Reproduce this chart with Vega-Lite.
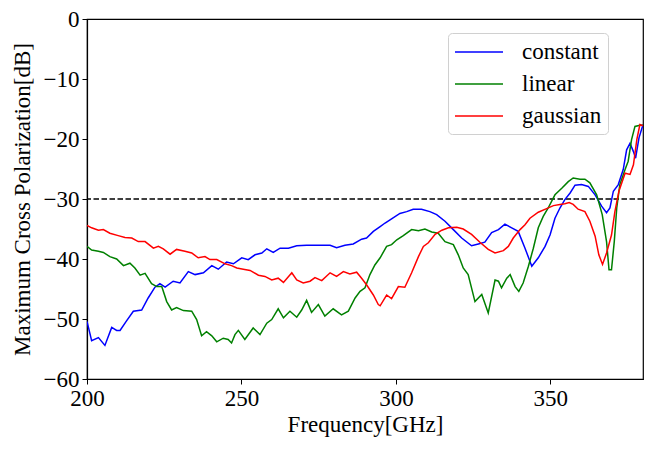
{
  "$schema": "https://vega.github.io/schema/vega-lite/v6.json",
  "width": 556,
  "height": 360,
  "autosize": {"type": "none"},
  "padding": {"left": 87, "top": 19, "right": 11, "bottom": 74},
  "background": "white",
  "config": {
    "font": "Liberation Serif",
    "view": {"stroke": "black", "strokeWidth": 1.2},
    "axis": {
      "grid": false,
      "domainColor": "black",
      "tickColor": "black",
      "labelColor": "black",
      "titleColor": "black",
      "labelFont": "Liberation Serif",
      "titleFont": "Liberation Serif",
      "labelFontSize": 23,
      "titleFontSize": 23,
      "titleFontWeight": "normal",
      "tickSize": 5,
      "tickWidth": 1,
      "domainWidth": 1.2
    }
  },
  "datasets": {
    "curves": [
      {"f": 200, "v": -50.4, "s": "constant"},
      {"f": 201.5, "v": -53.6, "s": "constant"},
      {"f": 203.7, "v": -53.1, "s": "constant"},
      {"f": 205.8, "v": -54.4, "s": "constant"},
      {"f": 208.0, "v": -51.4, "s": "constant"},
      {"f": 209.6, "v": -51.9, "s": "constant"},
      {"f": 210.7, "v": -51.9, "s": "constant"},
      {"f": 212.8, "v": -50.3, "s": "constant"},
      {"f": 215.0, "v": -48.7, "s": "constant"},
      {"f": 217.7, "v": -48.5, "s": "constant"},
      {"f": 219.8, "v": -46.5, "s": "constant"},
      {"f": 222.0, "v": -44.7, "s": "constant"},
      {"f": 223.6, "v": -44.1, "s": "constant"},
      {"f": 225.3, "v": -44.7, "s": "constant"},
      {"f": 227.9, "v": -43.7, "s": "constant"},
      {"f": 230.1, "v": -44.0, "s": "constant"},
      {"f": 232.8, "v": -42.1, "s": "constant"},
      {"f": 235.0, "v": -42.6, "s": "constant"},
      {"f": 237.7, "v": -42.3, "s": "constant"},
      {"f": 240.4, "v": -41.1, "s": "constant"},
      {"f": 242.5, "v": -41.7, "s": "constant"},
      {"f": 245.2, "v": -40.5, "s": "constant"},
      {"f": 247.4, "v": -40.8, "s": "constant"},
      {"f": 250.1, "v": -39.8, "s": "constant"},
      {"f": 252.2, "v": -40.1, "s": "constant"},
      {"f": 254.4, "v": -39.3, "s": "constant"},
      {"f": 256.6, "v": -39.0, "s": "constant"},
      {"f": 258.2, "v": -38.3, "s": "constant"},
      {"f": 260.3, "v": -38.9, "s": "constant"},
      {"f": 262.5, "v": -38.2, "s": "constant"},
      {"f": 265.2, "v": -38.2, "s": "constant"},
      {"f": 267.9, "v": -37.8, "s": "constant"},
      {"f": 271.1, "v": -37.7, "s": "constant"},
      {"f": 274.4, "v": -37.7, "s": "constant"},
      {"f": 278.7, "v": -37.7, "s": "constant"},
      {"f": 280.8, "v": -38.1, "s": "constant"},
      {"f": 283.5, "v": -37.7, "s": "constant"},
      {"f": 286.2, "v": -37.5, "s": "constant"},
      {"f": 288.9, "v": -36.7, "s": "constant"},
      {"f": 290.5, "v": -36.5, "s": "constant"},
      {"f": 292.7, "v": -35.4, "s": "constant"},
      {"f": 294.9, "v": -34.6, "s": "constant"},
      {"f": 296.5, "v": -34.0, "s": "constant"},
      {"f": 298.6, "v": -33.3, "s": "constant"},
      {"f": 301.3, "v": -32.4, "s": "constant"},
      {"f": 303.5, "v": -32.1, "s": "constant"},
      {"f": 305.6, "v": -31.7, "s": "constant"},
      {"f": 308.3, "v": -31.7, "s": "constant"},
      {"f": 311.0, "v": -32.1, "s": "constant"},
      {"f": 313.2, "v": -32.6, "s": "constant"},
      {"f": 315.9, "v": -33.7, "s": "constant"},
      {"f": 318.6, "v": -35.1, "s": "constant"},
      {"f": 321.3, "v": -36.5, "s": "constant"},
      {"f": 324.5, "v": -37.8, "s": "constant"},
      {"f": 326.7, "v": -37.5, "s": "constant"},
      {"f": 328.8, "v": -37.2, "s": "constant"},
      {"f": 331.0, "v": -35.6, "s": "constant"},
      {"f": 333.2, "v": -35.1, "s": "constant"},
      {"f": 335.3, "v": -34.2, "s": "constant"},
      {"f": 337.5, "v": -34.8, "s": "constant"},
      {"f": 339.6, "v": -35.4, "s": "constant"},
      {"f": 341.8, "v": -38.2, "s": "constant"},
      {"f": 344.0, "v": -41.2, "s": "constant"},
      {"f": 346.1, "v": -39.8, "s": "constant"},
      {"f": 348.3, "v": -37.9, "s": "constant"},
      {"f": 349.9, "v": -36.0, "s": "constant"},
      {"f": 351.5, "v": -33.2, "s": "constant"},
      {"f": 353.1, "v": -31.5, "s": "constant"},
      {"f": 354.7, "v": -30.1, "s": "constant"},
      {"f": 356.4, "v": -29.0, "s": "constant"},
      {"f": 358.0, "v": -27.7, "s": "constant"},
      {"f": 360.1, "v": -27.6, "s": "constant"},
      {"f": 362.3, "v": -27.9, "s": "constant"},
      {"f": 364.5, "v": -29.3, "s": "constant"},
      {"f": 366.6, "v": -31.2, "s": "constant"},
      {"f": 368.2, "v": -32.3, "s": "constant"},
      {"f": 369.3, "v": -31.5, "s": "constant"},
      {"f": 370.4, "v": -28.7, "s": "constant"},
      {"f": 372.0, "v": -27.6, "s": "constant"},
      {"f": 373.6, "v": -25.1, "s": "constant"},
      {"f": 374.7, "v": -21.8, "s": "constant"},
      {"f": 375.8, "v": -20.7, "s": "constant"},
      {"f": 376.9, "v": -22.1, "s": "constant"},
      {"f": 377.6, "v": -23.2, "s": "constant"},
      {"f": 378.7, "v": -19.8, "s": "constant"},
      {"f": 380, "v": -17.6, "s": "constant"},

      {"f": 200, "v": -37.9, "s": "linear"},
      {"f": 201.5, "v": -38.5, "s": "linear"},
      {"f": 203.7, "v": -38.7, "s": "linear"},
      {"f": 205.3, "v": -38.9, "s": "linear"},
      {"f": 207.4, "v": -39.6, "s": "linear"},
      {"f": 209.6, "v": -40.0, "s": "linear"},
      {"f": 211.8, "v": -41.1, "s": "linear"},
      {"f": 213.9, "v": -40.7, "s": "linear"},
      {"f": 215.5, "v": -41.5, "s": "linear"},
      {"f": 217.2, "v": -42.7, "s": "linear"},
      {"f": 218.8, "v": -42.4, "s": "linear"},
      {"f": 220.9, "v": -44.1, "s": "linear"},
      {"f": 222.6, "v": -44.6, "s": "linear"},
      {"f": 224.2, "v": -44.6, "s": "linear"},
      {"f": 225.8, "v": -47.1, "s": "linear"},
      {"f": 227.4, "v": -48.5, "s": "linear"},
      {"f": 229.0, "v": -48.1, "s": "linear"},
      {"f": 231.2, "v": -48.6, "s": "linear"},
      {"f": 233.9, "v": -48.7, "s": "linear"},
      {"f": 235.5, "v": -50.1, "s": "linear"},
      {"f": 237.1, "v": -52.8, "s": "linear"},
      {"f": 238.7, "v": -52.1, "s": "linear"},
      {"f": 240.4, "v": -52.8, "s": "linear"},
      {"f": 242.0, "v": -53.8, "s": "linear"},
      {"f": 244.1, "v": -53.2, "s": "linear"},
      {"f": 245.7, "v": -53.4, "s": "linear"},
      {"f": 246.8, "v": -54.0, "s": "linear"},
      {"f": 247.9, "v": -52.6, "s": "linear"},
      {"f": 249.0, "v": -51.9, "s": "linear"},
      {"f": 251.1, "v": -53.4, "s": "linear"},
      {"f": 253.8, "v": -51.5, "s": "linear"},
      {"f": 256.0, "v": -52.6, "s": "linear"},
      {"f": 258.2, "v": -50.7, "s": "linear"},
      {"f": 259.8, "v": -50.1, "s": "linear"},
      {"f": 261.9, "v": -48.3, "s": "linear"},
      {"f": 263.6, "v": -49.8, "s": "linear"},
      {"f": 265.7, "v": -48.7, "s": "linear"},
      {"f": 267.9, "v": -49.7, "s": "linear"},
      {"f": 269.5, "v": -48.5, "s": "linear"},
      {"f": 271.1, "v": -46.9, "s": "linear"},
      {"f": 272.7, "v": -48.9, "s": "linear"},
      {"f": 274.9, "v": -47.6, "s": "linear"},
      {"f": 277.0, "v": -49.5, "s": "linear"},
      {"f": 279.7, "v": -48.3, "s": "linear"},
      {"f": 282.4, "v": -49.3, "s": "linear"},
      {"f": 284.6, "v": -48.7, "s": "linear"},
      {"f": 286.8, "v": -46.5, "s": "linear"},
      {"f": 288.4, "v": -45.4, "s": "linear"},
      {"f": 290.0, "v": -44.8, "s": "linear"},
      {"f": 291.6, "v": -42.6, "s": "linear"},
      {"f": 293.2, "v": -41.0, "s": "linear"},
      {"f": 294.9, "v": -39.8, "s": "linear"},
      {"f": 297.0, "v": -37.9, "s": "linear"},
      {"f": 298.6, "v": -37.6, "s": "linear"},
      {"f": 300.3, "v": -36.8, "s": "linear"},
      {"f": 302.4, "v": -36.1, "s": "linear"},
      {"f": 305.1, "v": -35.1, "s": "linear"},
      {"f": 307.3, "v": -35.3, "s": "linear"},
      {"f": 309.4, "v": -35.0, "s": "linear"},
      {"f": 311.6, "v": -35.5, "s": "linear"},
      {"f": 313.7, "v": -35.7, "s": "linear"},
      {"f": 315.9, "v": -37.1, "s": "linear"},
      {"f": 318.6, "v": -37.6, "s": "linear"},
      {"f": 320.2, "v": -39.3, "s": "linear"},
      {"f": 321.8, "v": -41.5, "s": "linear"},
      {"f": 323.4, "v": -42.6, "s": "linear"},
      {"f": 325.6, "v": -47.1, "s": "linear"},
      {"f": 327.8, "v": -45.9, "s": "linear"},
      {"f": 329.9, "v": -49.0, "s": "linear"},
      {"f": 332.1, "v": -43.5, "s": "linear"},
      {"f": 333.2, "v": -43.7, "s": "linear"},
      {"f": 334.2, "v": -44.8, "s": "linear"},
      {"f": 335.9, "v": -43.2, "s": "linear"},
      {"f": 337.0, "v": -42.6, "s": "linear"},
      {"f": 338.6, "v": -44.6, "s": "linear"},
      {"f": 339.8, "v": -45.4, "s": "linear"},
      {"f": 341.2, "v": -44.0, "s": "linear"},
      {"f": 342.9, "v": -41.2, "s": "linear"},
      {"f": 344.5, "v": -38.2, "s": "linear"},
      {"f": 346.1, "v": -34.8, "s": "linear"},
      {"f": 347.7, "v": -32.9, "s": "linear"},
      {"f": 349.3, "v": -31.5, "s": "linear"},
      {"f": 351.5, "v": -29.3, "s": "linear"},
      {"f": 353.7, "v": -28.2, "s": "linear"},
      {"f": 355.8, "v": -27.1, "s": "linear"},
      {"f": 357.4, "v": -26.5, "s": "linear"},
      {"f": 359.6, "v": -26.7, "s": "linear"},
      {"f": 361.2, "v": -26.7, "s": "linear"},
      {"f": 362.8, "v": -27.3, "s": "linear"},
      {"f": 365.0, "v": -29.3, "s": "linear"},
      {"f": 366.8, "v": -32.6, "s": "linear"},
      {"f": 368.2, "v": -37.1, "s": "linear"},
      {"f": 369.0, "v": -41.8, "s": "linear"},
      {"f": 369.8, "v": -41.8, "s": "linear"},
      {"f": 370.7, "v": -37.1, "s": "linear"},
      {"f": 371.5, "v": -31.5, "s": "linear"},
      {"f": 372.5, "v": -27.6, "s": "linear"},
      {"f": 374.2, "v": -25.1, "s": "linear"},
      {"f": 375.2, "v": -23.7, "s": "linear"},
      {"f": 376.3, "v": -20.1, "s": "linear"},
      {"f": 377.4, "v": -17.9, "s": "linear"},
      {"f": 379.0, "v": -17.7, "s": "linear"},
      {"f": 380, "v": -17.7, "s": "linear"},

      {"f": 200, "v": -34.4, "s": "gaussian"},
      {"f": 201.5, "v": -34.8, "s": "gaussian"},
      {"f": 203.7, "v": -35.2, "s": "gaussian"},
      {"f": 205.3, "v": -35.1, "s": "gaussian"},
      {"f": 207.4, "v": -35.7, "s": "gaussian"},
      {"f": 210.1, "v": -36.1, "s": "gaussian"},
      {"f": 212.3, "v": -36.4, "s": "gaussian"},
      {"f": 214.5, "v": -36.5, "s": "gaussian"},
      {"f": 216.6, "v": -37.1, "s": "gaussian"},
      {"f": 218.8, "v": -37.1, "s": "gaussian"},
      {"f": 221.5, "v": -38.2, "s": "gaussian"},
      {"f": 223.1, "v": -37.9, "s": "gaussian"},
      {"f": 224.7, "v": -38.3, "s": "gaussian"},
      {"f": 226.9, "v": -39.2, "s": "gaussian"},
      {"f": 229.0, "v": -38.4, "s": "gaussian"},
      {"f": 231.7, "v": -38.7, "s": "gaussian"},
      {"f": 233.9, "v": -39.0, "s": "gaussian"},
      {"f": 236.0, "v": -39.8, "s": "gaussian"},
      {"f": 238.2, "v": -39.6, "s": "gaussian"},
      {"f": 239.8, "v": -40.1, "s": "gaussian"},
      {"f": 242.0, "v": -40.1, "s": "gaussian"},
      {"f": 244.7, "v": -40.8, "s": "gaussian"},
      {"f": 246.8, "v": -41.1, "s": "gaussian"},
      {"f": 248.5, "v": -41.5, "s": "gaussian"},
      {"f": 250.6, "v": -41.7, "s": "gaussian"},
      {"f": 252.8, "v": -41.9, "s": "gaussian"},
      {"f": 255.5, "v": -42.7, "s": "gaussian"},
      {"f": 257.6, "v": -42.9, "s": "gaussian"},
      {"f": 259.8, "v": -43.5, "s": "gaussian"},
      {"f": 261.9, "v": -43.2, "s": "gaussian"},
      {"f": 263.6, "v": -43.9, "s": "gaussian"},
      {"f": 266.3, "v": -42.3, "s": "gaussian"},
      {"f": 267.9, "v": -43.5, "s": "gaussian"},
      {"f": 270.0, "v": -44.0, "s": "gaussian"},
      {"f": 272.2, "v": -43.7, "s": "gaussian"},
      {"f": 273.8, "v": -43.1, "s": "gaussian"},
      {"f": 276.0, "v": -43.6, "s": "gaussian"},
      {"f": 278.7, "v": -42.3, "s": "gaussian"},
      {"f": 280.8, "v": -42.9, "s": "gaussian"},
      {"f": 283.0, "v": -42.1, "s": "gaussian"},
      {"f": 285.1, "v": -42.5, "s": "gaussian"},
      {"f": 287.3, "v": -42.2, "s": "gaussian"},
      {"f": 288.9, "v": -43.2, "s": "gaussian"},
      {"f": 290.5, "v": -44.3, "s": "gaussian"},
      {"f": 292.7, "v": -46.0, "s": "gaussian"},
      {"f": 294.3, "v": -47.6, "s": "gaussian"},
      {"f": 294.9, "v": -47.8, "s": "gaussian"},
      {"f": 297.0, "v": -46.0, "s": "gaussian"},
      {"f": 298.6, "v": -46.6, "s": "gaussian"},
      {"f": 300.8, "v": -44.6, "s": "gaussian"},
      {"f": 302.9, "v": -44.7, "s": "gaussian"},
      {"f": 305.1, "v": -42.3, "s": "gaussian"},
      {"f": 307.3, "v": -39.6, "s": "gaussian"},
      {"f": 308.9, "v": -37.9, "s": "gaussian"},
      {"f": 310.5, "v": -37.3, "s": "gaussian"},
      {"f": 312.7, "v": -35.9, "s": "gaussian"},
      {"f": 314.9, "v": -35.2, "s": "gaussian"},
      {"f": 317.0, "v": -34.8, "s": "gaussian"},
      {"f": 319.7, "v": -34.7, "s": "gaussian"},
      {"f": 321.8, "v": -35.0, "s": "gaussian"},
      {"f": 324.5, "v": -35.9, "s": "gaussian"},
      {"f": 327.2, "v": -37.2, "s": "gaussian"},
      {"f": 329.9, "v": -38.4, "s": "gaussian"},
      {"f": 332.1, "v": -39.0, "s": "gaussian"},
      {"f": 334.8, "v": -38.6, "s": "gaussian"},
      {"f": 336.4, "v": -37.9, "s": "gaussian"},
      {"f": 338.0, "v": -36.5, "s": "gaussian"},
      {"f": 340.2, "v": -35.1, "s": "gaussian"},
      {"f": 341.8, "v": -34.3, "s": "gaussian"},
      {"f": 343.4, "v": -33.2, "s": "gaussian"},
      {"f": 346.1, "v": -32.2, "s": "gaussian"},
      {"f": 348.8, "v": -31.6, "s": "gaussian"},
      {"f": 351.0, "v": -31.1, "s": "gaussian"},
      {"f": 353.1, "v": -30.9, "s": "gaussian"},
      {"f": 354.7, "v": -30.8, "s": "gaussian"},
      {"f": 356.1, "v": -30.6, "s": "gaussian"},
      {"f": 357.4, "v": -30.9, "s": "gaussian"},
      {"f": 359.0, "v": -31.7, "s": "gaussian"},
      {"f": 361.2, "v": -32.1, "s": "gaussian"},
      {"f": 362.8, "v": -33.7, "s": "gaussian"},
      {"f": 364.5, "v": -36.2, "s": "gaussian"},
      {"f": 365.7, "v": -39.3, "s": "gaussian"},
      {"f": 366.9, "v": -40.9, "s": "gaussian"},
      {"f": 368.2, "v": -39.0, "s": "gaussian"},
      {"f": 369.8, "v": -36.0, "s": "gaussian"},
      {"f": 370.9, "v": -32.1, "s": "gaussian"},
      {"f": 372.2, "v": -28.7, "s": "gaussian"},
      {"f": 374.2, "v": -25.7, "s": "gaussian"},
      {"f": 375.8, "v": -25.9, "s": "gaussian"},
      {"f": 376.9, "v": -24.3, "s": "gaussian"},
      {"f": 378.0, "v": -20.1, "s": "gaussian"},
      {"f": 379.0, "v": -17.6, "s": "gaussian"},
      {"f": 380, "v": -17.8, "s": "gaussian"}
    ],
    "threshold": [{"v": -30}]
  },
  "layer": [
    {
      "data": {"name": "threshold"},
      "mark": {"type": "rule", "color": "black", "strokeWidth": 1.4, "strokeDash": [5.5, 2.5]},
      "encoding": {
        "y": {"field": "v", "type": "quantitative", "scale": {"domain": [-60, 0], "nice": false}}
      }
    },
    {
      "data": {"name": "curves"},
      "mark": {"type": "line", "strokeWidth": 1.5, "clip": true},
      "encoding": {
        "x": {
          "field": "f", "type": "quantitative",
          "scale": {"domain": [200, 380], "nice": false, "zero": false},
          "axis": {"values": [200, 250, 300, 350], "title": "Frequency[GHz]", "labelPadding": 3, "titlePadding": 3, "labelFlush": false}
        },
        "y": {
          "field": "v", "type": "quantitative",
          "scale": {"domain": [-60, 0], "nice": false},
          "axis": {"values": [-60, -50, -40, -30, -20, -10, 0], "title": "Maximum Cross Polarization[dB]", "labelPadding": 3, "titlePadding": 9, "labelFlush": false}
        },
        "color": {
          "field": "s", "type": "nominal",
          "scale": {"domain": ["constant", "linear", "gaussian"], "range": ["#0000ff", "#008000", "#ff0000"]},
          "legend": {
            "title": null,
            "orient": "none",
            "legendX": 361,
            "legendY": 14,
            "symbolType": "M-1,0H3",
            "symbolSize": 576,
            "symbolStrokeWidth": 1.5,
            "labelFont": "Liberation Serif",
            "labelFontSize": 23,
            "labelColor": "black",
            "labelOffset": 42,
            "rowPadding": 7,
            "padding": 6,
            "strokeColor": "#d0d0d0",
            "fillColor": "white",
            "cornerRadius": 4
          }
        }
      }
    }
  ]
}
